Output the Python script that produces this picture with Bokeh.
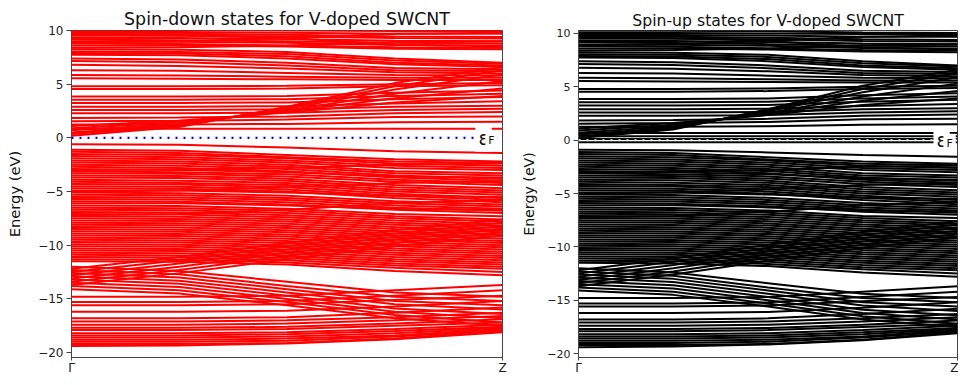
from bokeh.plotting import figure
from bokeh.layouts import row
from bokeh.models import FixedTicker, Label, Span, Range1d
from bokeh.embed import file_html
from bokeh.resources import INLINE

# k-path sampling points (Gamma -> Z)
K = [0.0, 0.25, 0.5, 0.75, 1.0]
K_TICKS = [0.0, 1.0]
K_LABELS = ["Γ", "Z"]
E_TICKS = [-20, -15, -10, -5, 0, 5, 10]
E_FERMI = 0.0
TITLES = ["Spin-down states for V-doped SWCNT", "Spin-up states for V-doped SWCNT"]
Y_LABEL = "Energy (eV)"

# ---- host-tube bands (read at K), common to both spin channels ----
cond_top = [
    [10.5, 10.5, 10.45, 10.4, 10.4],
    [10.25, 10.25, 10.2, 10.1, 10.05],
    [10.05, 10.05, 10.0, 9.95, 9.95],
    [9.85, 9.85, 9.8, 9.7, 9.7],
    [9.7, 9.7, 9.6, 9.45, 9.4],
    [9.5, 9.5, 9.45, 9.3, 9.25],
    [9.3, 9.3, 9.2, 9.05, 9.0],
    [9.15, 9.1, 9.0, 8.85, 8.8],
    [8.95, 8.95, 8.85, 8.65, 8.6],
    [8.8, 8.75, 8.6, 8.45, 8.4],
    [8.6, 8.6, 8.5, 8.3, 8.25],
    [8.4, 8.45, 8.6, 8.9, 9.0],
    [8.25, 8.2, 8.0, 7.4, 7.0],
    [8.05, 8.0, 7.8, 7.2, 6.9],
    [7.9, 7.85, 7.6, 7.0, 6.75],
    [7.75, 7.7, 7.4, 6.85, 6.6],
    [9.6, 9.55, 9.3, 8.7, 8.5],
    [8.9, 9.0, 9.3, 9.7, 9.8],
]
cond_disc = [
    [7.4, 7.3, 7.0, 6.5, 6.4],
    [7.15, 7.05, 6.75, 6.3, 6.2],
    [6.8, 6.7, 6.45, 6.1, 6.0],
    [6.3, 6.25, 6.05, 5.85, 5.8],
    [5.85, 5.8, 5.7, 5.6, 5.6],
    [5.55, 5.5, 5.45, 5.4, 5.4],
    [4.8, 4.8, 4.85, 5.0, 5.1],
    [4.55, 4.55, 4.6, 4.8, 4.9],
]
cond_mid = [
    [3.85, 3.85, 3.9, 4.2, 4.4],
    [3.55, 3.55, 3.6, 3.9, 4.1],
    [3.25, 3.25, 3.3, 3.6, 3.8],
    [2.9, 2.9, 2.95, 3.2, 3.4],
    [2.6, 2.6, 2.65, 2.9, 3.0],
    [2.3, 2.3, 2.35, 2.6, 2.7],
    [1.85, 1.9, 2.0, 2.3, 2.4],
    [1.55, 1.6, 1.7, 1.95, 2.0],
    [1.25, 1.25, 1.3, 1.45, 1.5],
]
cond_rise = [
    [0.2, 1.0, 2.9, 5.1, 6.6],
    [0.35, 1.1, 2.8, 4.8, 6.3],
    [0.5, 1.2, 2.7, 4.5, 5.9],
    [0.7, 1.3, 2.55, 4.1, 5.3],
    [0.9, 1.45, 2.45, 3.7, 4.6],
    [1.1, 1.6, 2.35, 3.3, 3.9],
]
val_mid = [
    [-1.1, -1.2, -1.6, -2.0, -2.2],
    [-1.3, -1.4, -1.8, -2.2, -2.35],
    [-1.5, -1.6, -1.9, -2.4, -2.6],
    [-1.7, -1.8, -2.1, -2.6, -2.8],
    [-1.9, -2.0, -2.3, -2.8, -3.0],
    [-2.1, -2.2, -2.5, -3.1, -3.3],
    [-2.3, -2.4, -2.7, -3.3, -3.5],
    [-2.5, -2.6, -2.9, -3.5, -3.8],
    [-2.7, -2.8, -3.1, -3.7, -4.0],
    [-2.9, -3.0, -3.2, -3.6, -3.7],
    [-3.1, -3.2, -3.4, -3.9, -4.2],
    [-3.3, -3.35, -3.6, -4.1, -4.4],
    [-3.5, -3.55, -3.8, -4.4, -4.7],
    [-3.7, -3.75, -4.0, -4.6, -4.9],
    [-3.9, -4.0, -4.2, -4.8, -5.1],
    [-4.1, -4.2, -4.4, -5.0, -5.3],
    [-4.3, -4.35, -4.6, -5.2, -5.6],
    [-4.5, -4.55, -4.8, -5.4, -5.8],
    [-4.7, -4.75, -5.0, -5.6, -6.0],
    [-4.9, -4.9, -5.1, -5.4, -5.5],
    [-5.1, -5.15, -5.4, -5.9, -6.2],
    [-5.3, -5.35, -5.6, -6.1, -6.4],
    [-5.5, -5.55, -5.8, -6.3, -6.6],
    [-5.7, -5.75, -6.0, -6.5, -6.8],
    [-5.9, -5.95, -6.2, -6.7, -7.0],
    [-6.1, -6.1, -6.3, -6.6, -6.7],
    [-6.3, -6.35, -6.6, -7.1, -7.3],
    [-6.5, -6.55, -6.8, -7.3, -7.6],
    [-6.7, -6.75, -7.0, -7.5, -7.8],
    [-6.9, -6.95, -7.2, -7.7, -8.0],
    [-7.1, -7.15, -7.4, -7.9, -8.2],
    [-7.3, -7.35, -7.6, -8.1, -8.4],
    [-7.5, -7.55, -7.8, -8.3, -8.6],
    [-7.7, -7.75, -8.0, -8.5, -8.8],
    [-7.9, -7.95, -8.2, -8.7, -9.0],
    [-8.1, -8.15, -8.4, -8.9, -9.2],
    [-8.3, -8.35, -8.6, -9.1, -9.4],
    [-8.5, -8.55, -8.8, -9.3, -9.6],
    [-8.7, -8.75, -9.0, -9.5, -9.8],
    [-8.9, -8.95, -9.2, -9.7, -10.0],
    [-9.1, -9.15, -9.4, -9.9, -10.2],
    [-9.3, -9.35, -9.6, -10.1, -10.4],
    [-9.5, -9.55, -9.8, -10.3, -10.6],
    [-9.7, -9.75, -10.0, -10.5, -10.8],
    [-3.0, -2.95, -2.8, -2.5, -2.4],
    [-5.0, -4.9, -4.6, -4.2, -4.0],
    [-7.2, -7.1, -6.7, -6.1, -5.8],
]
low_top = [
    [-9.9, -9.95, -10.2, -10.7, -11.0],
    [-10.1, -10.15, -10.4, -10.9, -11.2],
    [-10.3, -10.35, -10.6, -11.1, -11.4],
    [-10.5, -10.55, -10.8, -11.3, -11.6],
    [-10.7, -10.75, -11.0, -11.5, -11.8],
    [-10.9, -10.95, -11.2, -11.7, -12.0],
    [-11.1, -11.15, -11.4, -11.9, -12.2],
    [-11.3, -11.35, -11.6, -12.1, -12.5],
    [-11.5, -11.55, -11.8, -12.4, -12.8],
]
low_rise = [
    [-12.2, -11.1, -9.8, -8.6, -7.6],
    [-12.5, -11.4, -10.1, -8.9, -7.9],
    [-12.8, -11.7, -10.4, -9.2, -8.2],
    [-13.1, -12.0, -10.7, -9.5, -8.5],
    [-13.4, -12.3, -11.0, -9.8, -8.8],
    [-13.7, -12.6, -11.3, -10.1, -9.1],
]
low_fall = [
    [-12.0, -12.4, -13.4, -14.4, -14.8],
    [-12.3, -12.7, -13.8, -14.8, -15.2],
    [-12.6, -13.0, -14.1, -15.2, -15.6],
    [-12.9, -13.3, -14.4, -15.5, -16.0],
    [-13.2, -13.6, -14.7, -15.9, -16.4],
    [-13.5, -13.9, -15.0, -16.2, -16.8],
    [-13.8, -14.2, -15.3, -16.5, -17.2],
    [-14.1, -14.5, -15.6, -16.8, -17.5],
]
low_bot = [
    [-14.8, -14.8, -14.7, -14.2, -13.7],
    [-15.3, -15.3, -15.2, -14.7, -14.2],
    [-15.6, -15.6, -15.5, -15.1, -14.7],
    [-16.2, -16.2, -16.1, -15.7, -15.2],
    [-16.8, -16.8, -16.7, -16.3, -15.8],
    [-17.1, -17.1, -17.0, -16.7, -16.3],
    [-17.4, -17.4, -17.3, -17.0, -16.6],
    [-17.7, -17.7, -17.6, -17.3, -16.9],
    [-17.9, -17.9, -17.8, -17.5, -17.2],
    [-18.2, -18.2, -18.1, -17.8, -17.4],
    [-18.4, -18.4, -18.3, -18.0, -17.6],
    [-18.6, -18.6, -18.5, -18.2, -17.7],
    [-18.8, -18.8, -18.7, -18.4, -17.8],
    [-19.0, -19.0, -18.9, -18.5, -17.9],
    [-19.2, -19.2, -19.1, -18.7, -18.0],
    [-19.4, -19.35, -19.15, -18.75, -18.1],
]

# ---- spin-specific bands near the Fermi level ----
spin_down_extra = [
    [0.85, 0.85, 0.85, 0.85, 0.85],
    [-0.6, -0.65, -0.9, -1.25, -1.4],
]
spin_up_extra = [
    [0.68, 0.68, 0.68, 0.68, 0.68],
    [0.37, 0.37, 0.37, 0.37, 0.37],
    [0.12, 0.12, 0.12, 0.12, 0.12],
    [-0.19, -0.19, -0.19, -0.19, -0.19],
    [-0.9, -0.95, -1.15, -1.4, -1.55],
]

host = cond_top + cond_disc + cond_mid + cond_rise + val_mid + low_top + low_rise + low_fall + low_bot


def make_panel(title, bands, color, fermi_color, width, height, fl, fr, ft, fb,
               title_size, title_standoff, tick_size, label_size, label_standoff,
               y_bottom, y_top, eps_x):
    p = figure(width=width, height=height, output_backend="svg", toolbar_location=None,
               x_range=Range1d(K[0], K[-1]), y_range=Range1d(y_bottom, y_top),
               min_border_left=fl, min_border_right=fr, min_border_top=ft, min_border_bottom=fb)
    p.title.text = title
    p.title.align = "center"
    p.title.text_font = "DejaVu Sans"
    p.title.text_font_style = "normal"
    p.title.text_font_size = title_size
    p.title.text_color = "#111111"
    p.title.standoff = title_standoff
    p.xgrid.visible = False
    p.ygrid.visible = False
    p.outline_line_color = "#444444"
    p.background_fill_color = "white"
    p.border_fill_color = "white"

    p.multi_line(xs=[K] * len(bands), ys=bands, line_color=color, line_width=2.0)

    p.add_layout(Span(location=E_FERMI, dimension="width", line_color=fermi_color,
                      line_dash="2 6", line_width=2.2))

    for ax in (p.xaxis[0], p.yaxis[0]):
        ax.axis_line_color = "#444444"
        ax.major_tick_line_color = "#444444"
        ax.minor_tick_line_color = None
        ax.major_tick_in = 0
        ax.major_label_text_font = "DejaVu Sans"
        ax.major_label_text_color = "#222222"
    p.xaxis.ticker = FixedTicker(ticks=K_TICKS)
    p.xaxis.major_label_overrides = {t: s for t, s in zip(K_TICKS, K_LABELS)}
    p.xaxis.major_tick_out = 3
    p.xaxis.major_label_standoff = 0
    p.xaxis.major_label_text_font_size = "12px"
    p.yaxis.ticker = FixedTicker(ticks=E_TICKS)
    p.yaxis.major_label_overrides = {t: str(t).replace("-", "\u2212") for t in E_TICKS}
    p.yaxis.major_tick_out = 5
    p.yaxis.major_label_standoff = 3
    p.yaxis.major_label_text_font_size = tick_size
    p.yaxis.axis_label = Y_LABEL
    p.yaxis.axis_label_text_font = "DejaVu Sans"
    p.yaxis.axis_label_text_font_style = "normal"
    p.yaxis.axis_label_text_font_size = label_size
    p.yaxis.axis_label_standoff = label_standoff
    p.yaxis.axis_label_text_color = "#111111"

    p.add_layout(Label(x=eps_x, y=E_FERMI, text="ε", text_font="DejaVu Sans",
                       text_font_size="19px", text_align="center", text_baseline="middle",
                       text_color="#111111", background_fill_color="white", padding=3))
    p.add_layout(Label(x=eps_x, y=E_FERMI, x_offset=8, y_offset=-3, text="F",
                       text_font="DejaVu Sans", text_font_size="11px", text_align="center",
                       text_baseline="middle", text_color="#111111",
                       background_fill_color="white", padding=3))
    return p


left = make_panel(TITLES[0], host + spin_down_extra, "#ff0000", "#0000ff",
                  507, 377, 71, 5, 30, 17, "17.4px", 4, "12px", "14.7px", 12,
                  -20.46, 10.0, 0.956)
right = make_panel(TITLES[1], host + spin_up_extra, "#000000", "#cfe6cf",
                   451, 377, 71, 1, 30, 17, "15.7px", 1, "11px", "14.2px", 7,
                   -20.37, 10.28, 0.958)

layout = row(left, right)
open("out.html", "w").write(file_html(layout, INLINE))
